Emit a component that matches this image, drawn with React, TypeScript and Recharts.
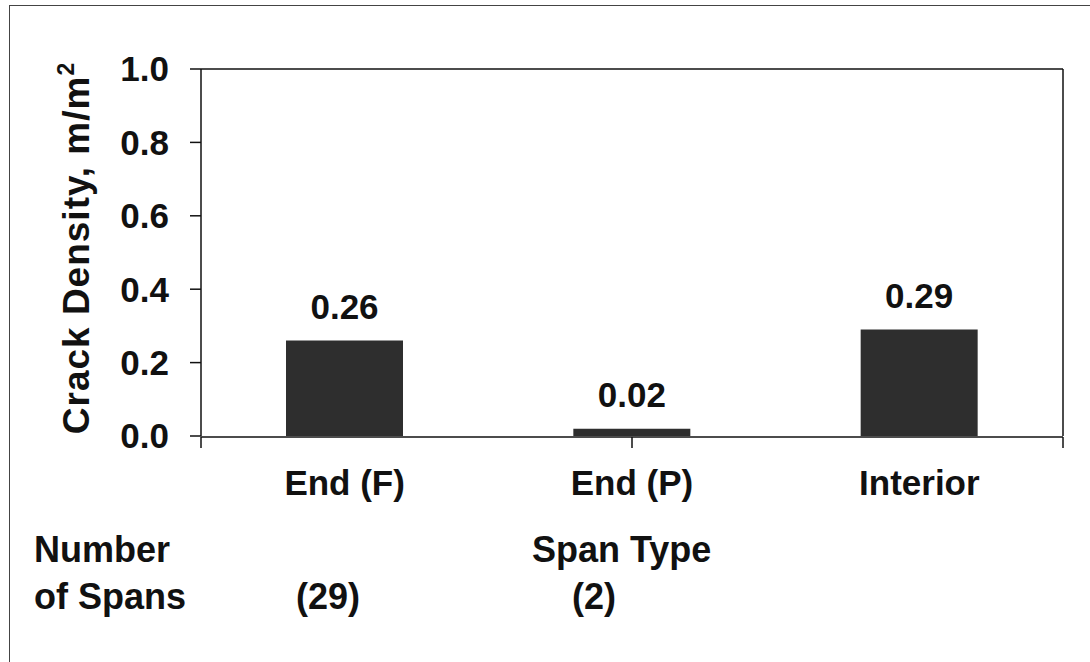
import React from "react"
import { BarChart, Bar, XAxis, YAxis, LabelList } from "recharts"

const spanTypes = ["End (F)", "End (P)", "Interior"]
const crackDensity = [0.26, 0.02, 0.29]
const yTicks = [0, 0.2, 0.4, 0.6, 0.8, 1.0]
const boundaryTicks = [0, 1, 2, 3]
const spanCounts = ["(29)", "(2)"]

const data = spanTypes.map((name, i) => ({ name, value: crackDensity[i] }))

const FONT = "'Liberation Sans', Arial, sans-serif"
const INK = "#111"

function YLabel() {
    return (
        <text
            x={0}
            y={0}
            transform="translate(89, 248) rotate(-90)"
            textAnchor="middle"
            fontFamily={FONT}
            fontWeight="bold"
            fontSize={37}
            letterSpacing={1}
            fill={INK}
        >
            Crack Density, m/m
            <tspan fontSize={23} dy={-15}>2</tspan>
        </text>
    )
}

const textStyle: React.CSSProperties = {
    position: "absolute",
    fontFamily: FONT,
    fontWeight: "bold",
    fontSize: 36,
    color: INK,
    lineHeight: 1,
    whiteSpace: "nowrap",
}

export default function App() {
    return (
        <div style={{ position: "absolute", left: 0, top: 0, width: 1090, height: 662, background: "#fff" }}>
            {/* scanned page frame */}
            <div
                style={{
                    position: "absolute",
                    left: 9,
                    top: 5,
                    width: 1081,
                    height: 657,
                    borderLeft: "1.5px solid #444",
                    borderTop: "1.5px solid #444",
                }}
            />
            <BarChart
                width={1090}
                height={662}
                data={data}
                margin={{ top: 68, right: 26, left: 0, bottom: 224 }}
                style={{ position: "absolute", left: 0, top: 0 }}
            >
                {/* category labels, drawn from a 1px tall axis so the frame axis sits on the plot edge */}
                <XAxis
                    dataKey="name"
                    height={1}
                    axisLine={false}
                    tickLine={false}
                    tickSize={0}
                    tickMargin={34}
                    tick={{ fontFamily: FONT, fontWeight: "bold", fontSize: 35, fill: INK }}
                />
                <XAxis
                    xAxisId="bounds"
                    type="number"
                    domain={[0, 3]}
                    ticks={boundaryTicks}
                    allowDataOverflow
                    height={1}
                    tickSize={11}
                    tick={() => <g />}
                    axisLine={{ stroke: INK, strokeWidth: 1.5 }}
                    tickLine={{ stroke: INK, strokeWidth: 1.5 }}
                />
                <XAxis
                    xAxisId="top"
                    orientation="top"
                    height={1}
                    tick={false}
                    tickLine={false}
                    axisLine={{ stroke: INK, strokeWidth: 1.5 }}
                />
                <YAxis
                    width={201}
                    domain={[0, 1]}
                    ticks={yTicks}
                    tickFormatter={(v: number) => v.toFixed(1)}
                    tickSize={11}
                    tickMargin={21}
                    axisLine={{ stroke: INK, strokeWidth: 1.5 }}
                    tickLine={{ stroke: INK, strokeWidth: 1.5 }}
                    tick={{ fontFamily: FONT, fontWeight: "bold", fontSize: 35, fill: INK }}
                    label={<YLabel />}
                />
                <YAxis
                    yAxisId="right"
                    orientation="right"
                    width={1}
                    domain={[0, 1]}
                    tick={false}
                    tickLine={false}
                    axisLine={{ stroke: INK, strokeWidth: 1.5 }}
                />
                <Bar dataKey="value" fill="#2e2e2e" barSize={117} isAnimationActive={false}>
                    <LabelList
                        dataKey="value"
                        position="top"
                        offset={22}
                        formatter={(v: number) => v.toFixed(2)}
                        style={{ fontFamily: FONT, fontWeight: "bold", fontSize: 35, fill: INK }}
                    />
                </Bar>
            </BarChart>
            <div style={{ ...textStyle, left: 34, top: 532 }}>Number</div>
            <div style={{ ...textStyle, left: 34, top: 579 }}>of Spans</div>
            <div style={{ ...textStyle, left: 532, top: 532 }}>Span Type</div>
            <div style={{ ...textStyle, left: 296, top: 579 }}>{spanCounts[0]}</div>
            <div style={{ ...textStyle, left: 572, top: 579 }}>{spanCounts[1]}</div>
        </div>
    )
}
